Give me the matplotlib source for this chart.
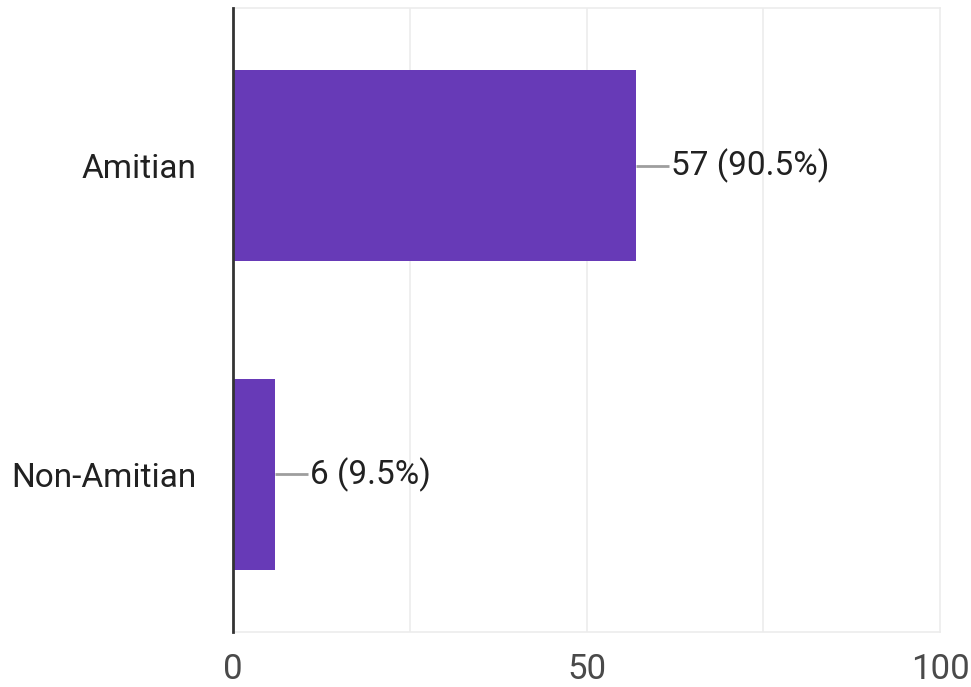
import matplotlib.pyplot as plt

categories = ["Amitian", "Non-Amitian"]
counts = [57, 6]
percents = [90.5, 9.5]
xticks = [0, 50, 100]
grid_x = [25, 50, 75]

plt.rcParams['font.family'] = ['Roboto', 'DejaVu Sans']

fig = plt.figure(figsize=(9.71, 6.87), dpi=100)
ax = fig.add_axes([233/971, 1-632/687, (940-233)/971, (632-8)/687])

ypos = list(range(len(categories)))
ax.barh(ypos, counts, height=0.62, color='#673ab7', zorder=3)

for y, c, p in zip(ypos, counts, percents):
    ax.plot([c, c + 4.6], [y, y], color='#9e9e9e', lw=2, zorder=3, solid_capstyle='butt')
    ax.text(c + 4.9, y, f"{c} ({p}%)", va='center', ha='left', fontsize=24, color='#212121')

for g in grid_x:
    ax.axvline(g, color='#ececec', lw=1.2, zorder=1)

ax.set_xlim(0, 100)
ax.set_ylim(1.51, -0.51)
ax.set_yticks(ypos)
ax.set_yticklabels(categories, fontsize=24, color='#212121')
ax.set_xticks(xticks)
ax.set_xticklabels([str(t) for t in xticks], fontsize=25, color='#4a4a4a')
ax.tick_params(axis='both', length=0)
ax.tick_params(axis='y', pad=26)
ax.tick_params(axis='x', pad=15)

for s in ['top', 'right', 'bottom']:
    ax.spines[s].set_color('#ececec')
    ax.spines[s].set_linewidth(1.2)
ax.spines['left'].set_color('#333333')
ax.spines['left'].set_linewidth(2)
ax.spines['left'].set_zorder(4)

fig.savefig('out.png', dpi=100)
